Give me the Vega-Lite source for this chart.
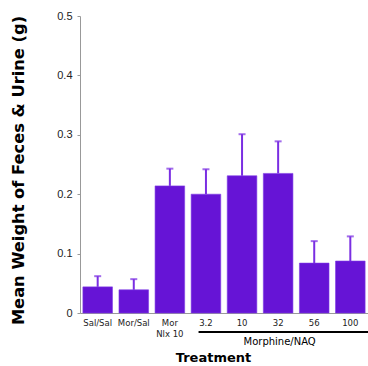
{
  "$schema": "https://vega.github.io/schema/vega-lite/v6.json",
  "autosize": {"type": "none"},
  "padding": {"left": 80, "top": 16, "right": 0, "bottom": 53},
  "width": 288,
  "height": 297,
  "background": "white",
  "config": {"view": {"stroke": null}},
  "datasets": {
    "bars": [
      {"treatment": "Sal/Sal", "mean": 0.044, "upper": 0.062},
      {"treatment": "Mor/Sal", "mean": 0.039, "upper": 0.057},
      {"treatment": "Mor|Nlx 10", "mean": 0.214, "upper": 0.243},
      {"treatment": "3.2", "mean": 0.200, "upper": 0.242},
      {"treatment": "10", "mean": 0.231, "upper": 0.301},
      {"treatment": "32", "mean": 0.235, "upper": 0.289},
      {"treatment": "56", "mean": 0.084, "upper": 0.121},
      {"treatment": "100", "mean": 0.0875, "upper": 0.129}
    ],
    "group": [
      {"from": "3.2", "to": "100", "label": "Morphine/NAQ", "lineY": -0.032, "textY": -0.049, "mid": "32"}
    ]
  },
  "layer": [
    {
      "data": {"name": "bars"},
      "mark": {"type": "bar", "color": "#6614d6", "stroke": "#7e3ae6", "strokeWidth": 0.6},
      "encoding": {
        "x": {
          "field": "treatment", "type": "nominal", "sort": null,
          "scale": {"domain": ["Sal/Sal", "Mor/Sal", "Mor|Nlx 10", "3.2", "10", "32", "56", "100"], "paddingInner": 0.18, "paddingOuter": 0.08},
          "axis": {
            "title": "Treatment",
            "titleFont": "DejaVu Sans", "titleFontSize": 13, "titleFontWeight": "bold", "titleColor": "black",
            "titleX": 133, "titleY": 44, "titleBaseline": "middle",
            "labelAngle": 0, "labelFont": "DejaVu Sans", "labelFontSize": 8.5, "labelColor": "#222",
            "labelPadding": 5, "labelLineHeight": 11,
            "labelExpr": "split(datum.label, '|')",
            "ticks": false, "domainColor": "#999", "domainWidth": 1
          }
        },
        "y": {
          "field": "mean", "type": "quantitative",
          "scale": {"domain": [0, 0.5], "nice": false},
          "axis": {
            "title": "Mean Weight of Feces & Urine (g)",
            "titleFont": "DejaVu Sans", "titleFontSize": 16.3, "titleFontWeight": "bold", "titleColor": "black",
            "titleX": -62, "titleY": 154, "titleBaseline": "middle", "titleAlign": "center", "titleAngle": -90,
            "values": [0, 0.05, 0.1, 0.15, 0.2, 0.25, 0.3, 0.35, 0.4, 0.45, 0.5],
            "labelExpr": "round(datum.value*20) % 2 == 0 ? (datum.value == 0 ? '0' : format(datum.value, '.1f')) : ''",
            "labelFont": "Liberation Sans", "labelFontSize": 11, "labelColor": "#222", "labelPadding": 5,
            "tickSize": 3, "tickColor": "#999", "domainColor": "#999", "grid": false
          }
        }
      }
    },
    {
      "data": {"name": "bars"},
      "mark": {"type": "rule", "color": "#7a2ee2", "strokeWidth": 2},
      "encoding": {
        "x": {"field": "treatment", "type": "nominal", "sort": null},
        "y": {"field": "mean", "type": "quantitative"},
        "y2": {"field": "upper"}
      }
    },
    {
      "data": {"name": "bars"},
      "mark": {"type": "tick", "color": "#7a2ee2", "thickness": 2, "size": 7},
      "encoding": {
        "x": {"field": "treatment", "type": "nominal", "sort": null},
        "y": {"field": "upper", "type": "quantitative"}
      }
    },
    {
      "data": {"name": "group"},
      "mark": {"type": "rule", "color": "black", "strokeWidth": 2.2, "clip": false},
      "encoding": {
        "x": {"field": "from", "type": "nominal", "bandPosition": 0.25},
        "x2": {"field": "to", "bandPosition": 1.2},
        "y": {"field": "lineY", "type": "quantitative"}
      }
    },
    {
      "data": {"name": "group"},
      "mark": {"type": "text", "font": "DejaVu Sans", "fontSize": 10, "color": "black", "baseline": "middle", "align": "center"},
      "encoding": {
        "x": {"field": "mid", "type": "nominal", "bandPosition": 0.55},
        "y": {"field": "textY", "type": "quantitative"},
        "text": {"field": "label"}
      }
    }
  ]
}
